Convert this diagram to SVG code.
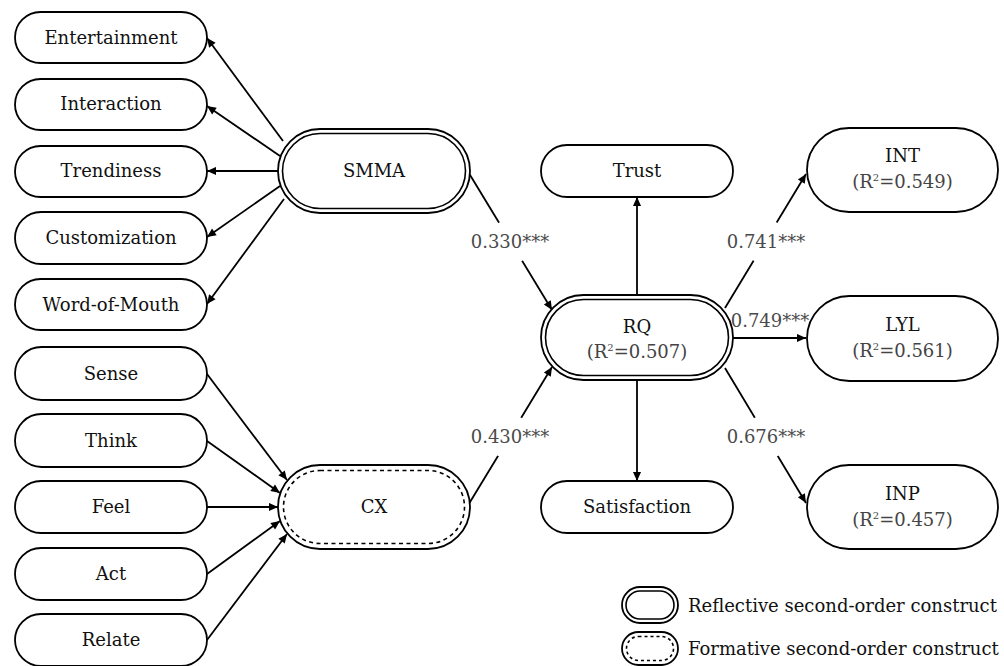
<svg xmlns="http://www.w3.org/2000/svg" width="1004" height="666" viewBox="0 0 1004 666">
<defs>
<style>
.box{fill:#fff;stroke:#000;stroke-width:1.8}
.inner{fill:none;stroke:#000;stroke-width:1.6}
.dash{fill:none;stroke:#000;stroke-width:1.6;stroke-dasharray:4 3.5}
.t{font-family:"DejaVu Serif","Liberation Serif",serif;font-size:18px;fill:#111;text-anchor:middle}
.r{font-family:"DejaVu Serif","Liberation Serif",serif;font-size:18px;fill:#444;text-anchor:middle}
.lab{font-family:"DejaVu Serif","Liberation Serif",serif;font-size:18px;fill:#4a4a4a;text-anchor:middle}
.leg{font-family:"DejaVu Serif","Liberation Serif",serif;font-size:18px;fill:#111}
.sup{font-size:10px}
.c{fill:none;stroke:#000;stroke-width:1.8;marker-end:url(#ah)}
</style>
<marker id="ah" viewBox="0 0 10 10" refX="10" refY="5" markerWidth="11" markerHeight="9" markerUnits="userSpaceOnUse" orient="auto">
<path d="M0,0.5 L10,5 L0,9.5 z" fill="#000"/>
</marker>
</defs>
<rect width="1004" height="666" fill="#fff"/>

<g id="connectors">
<path class="c" d="M283,141 L207,38"/>
<path class="c" d="M280,156 L207,106"/>
<path class="c" d="M278,171 L207,171"/>
<path class="c" d="M280,186 L207,237"/>
<path class="c" d="M284,199 L207,304"/>
<path class="c" d="M207,374 L287,480"/>
<path class="c" d="M207,441 L280,493"/>
<path class="c" d="M207,507 L278,507"/>
<path class="c" d="M207,574 L280,521"/>
<path class="c" d="M207,640 L287,534"/>
<path class="c" d="M467,170 L552,310"/>
<path class="c" d="M467,507 L552,367"/>
<path class="c" d="M637,295 L637,197"/>
<path class="c" d="M637,380 L637,481"/>
<path class="c" d="M725,308 L806,174"/>
<path class="c" d="M733,338 L806,338"/>
<path class="c" d="M725,368 L806,503"/>
<g id="labels">
<ellipse cx="510" cy="242" rx="24" ry="22" fill="#fff"/>
<text class="lab" x="510" y="248">0.330***</text>
<ellipse cx="510" cy="437" rx="24" ry="22" fill="#fff"/>
<text class="lab" x="510" y="443">0.430***</text>
<ellipse cx="766" cy="242" rx="24" ry="22" fill="#fff"/>
<text class="lab" x="766" y="248">0.741***</text>
<text class="lab" x="770" y="327">0.749***</text>
<ellipse cx="766" cy="437" rx="24" ry="22" fill="#fff"/>
<text class="lab" x="766" y="443">0.676***</text>
</g>
</g>

<g id="n-entertainment"><rect class="box" x="15" y="12" width="192" height="51" rx="25.5"/><text class="t" x="111" y="44">Entertainment</text></g>
<g id="n-interaction"><rect class="box" x="15" y="79" width="192" height="51" rx="25.5"/><text class="t" x="111" y="110">Interaction</text></g>
<g id="n-trendiness"><rect class="box" x="15" y="146" width="192" height="51" rx="25.5"/><text class="t" x="111" y="177">Trendiness</text></g>
<g id="n-customization"><rect class="box" x="15" y="212" width="192" height="52" rx="26"/><text class="t" x="111" y="244">Customization</text></g>
<g id="n-wom"><rect class="box" x="15" y="279" width="192" height="51" rx="25.5"/><text class="t" x="111" y="311">Word-of-Mouth</text></g>

<g id="n-sense"><rect class="box" x="15" y="347" width="192" height="53" rx="26.5"/><text class="t" x="111" y="380">Sense</text></g>
<g id="n-think"><rect class="box" x="15" y="414" width="192" height="53" rx="26.5"/><text class="t" x="111" y="447">Think</text></g>
<g id="n-feel"><rect class="box" x="15" y="481" width="192" height="52" rx="26"/><text class="t" x="111" y="513">Feel</text></g>
<g id="n-act"><rect class="box" x="15" y="548" width="192" height="52" rx="26"/><text class="t" x="111" y="580">Act</text></g>
<g id="n-relate"><rect class="box" x="15" y="614" width="192" height="52" rx="26"/><text class="t" x="111" y="646">Relate</text></g>

<g id="n-smma"><rect class="box" x="278" y="129" width="192" height="84" rx="42"/><rect class="inner" x="282.5" y="133.5" width="183" height="75" rx="37.5"/><text class="t" x="374" y="177">SMMA</text></g>
<g id="n-cx"><rect class="box" x="278" y="465" width="192" height="84" rx="42"/><rect class="dash" x="283.5" y="470.5" width="181" height="73" rx="36.5"/><text class="t" x="374" y="513">CX</text></g>

<g id="n-trust"><rect class="box" x="541" y="145" width="192" height="52" rx="26"/><text class="t" x="637" y="177">Trust</text></g>
<g id="n-rq"><rect class="box" x="541" y="295" width="192" height="85" rx="42.5"/><rect class="inner" x="545.5" y="299.5" width="183" height="76" rx="38"/><text class="t" x="637" y="333">RQ</text><text class="r" x="637" y="358">(R<tspan class="sup" dy="-7">2</tspan><tspan dy="7">=0.507)</tspan></text></g>
<g id="n-satisfaction"><rect class="box" x="541" y="481" width="192" height="52" rx="26"/><text class="t" x="637" y="513">Satisfaction</text></g>

<g id="n-int"><rect class="box" x="807" y="128" width="191" height="84" rx="42"/><text class="t" x="902.5" y="162">INT</text><text class="r" x="902.5" y="188">(R<tspan class="sup" dy="-7">2</tspan><tspan dy="7">=0.549)</tspan></text></g>
<g id="n-lyl"><rect class="box" x="807" y="296" width="191" height="85" rx="42.5"/><text class="t" x="902.5" y="331">LYL</text><text class="r" x="902.5" y="357">(R<tspan class="sup" dy="-7">2</tspan><tspan dy="7">=0.561)</tspan></text></g>
<g id="n-inp"><rect class="box" x="807" y="465" width="191" height="84" rx="42"/><text class="t" x="902.5" y="500">INP</text><text class="r" x="902.5" y="526">(R<tspan class="sup" dy="-7">2</tspan><tspan dy="7">=0.457)</tspan></text></g>

<g id="legend">
<rect class="box" x="622" y="587" width="56" height="36" rx="18"/>
<rect class="inner" x="626" y="591" width="48" height="28" rx="14"/>
<text class="leg" x="688" y="612">Reflective second-order construct</text>
<rect class="box" x="622" y="632" width="56" height="33" rx="16.5"/>
<rect class="dash" x="626.5" y="636.5" width="47" height="24" rx="12" style="stroke-dasharray:3 3"/>
<text class="leg" x="688" y="655">Formative second-order construct</text>
</g>
</svg>
